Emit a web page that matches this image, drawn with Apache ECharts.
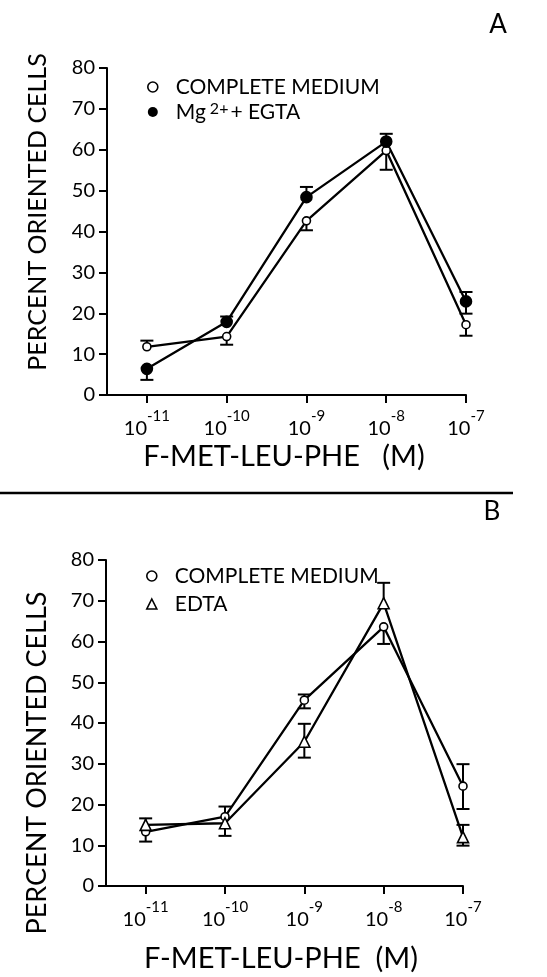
<!DOCTYPE html>
<html lang="en">
<head>
<meta charset="UTF-8">
<meta name="viewport" content="width=device-width, initial-scale=1.0">
<title>Percent oriented cells vs F-Met-Leu-Phe</title>
<style>
    html, body { margin: 0; padding: 0; background: #fff; }
    #echart { width: 547px; height: 977px; }
</style>
</head>
<body>

<div id="echart"></div>

<script src="https://cdn.jsdelivr.net/npm/echarts@6.0.0/dist/echarts.min.js"></script>
<script>
    // log10 of the F-Met-Leu-Phe concentration (M)
    const doses = [-11, -10, -9, -8, -7];

    // panel A
    const aComplete = [11.8, 14.3, 42.6, 59.8, 17.2];
    const aCompleteUp = [1.5, 0, 0, 0, 0];
    const aCompleteDown = [0, 2.0, 2.3, 4.7, 2.7];
    const aMgEgta = [6.4, 17.9, 48.4, 62.0, 22.9];
    const aMgEgtaUp = [0, 1.3, 2.5, 1.9, 2.3];
    const aMgEgtaDown = [2.7, 0, 0, 0, 3.0];

    // panel B
    const bComplete = [13.3, 17.0, 45.6, 63.6, 24.5];
    const bCompleteUp = [0, 2.5, 1.4, 0, 5.4];
    const bCompleteDown = [2.4, 0, 2.0, 4.2, 5.6];
    const bEdta = [15.0, 15.4, 35.4, 69.4, 12.0];
    const bEdtaUp = [1.6, 0, 4.4, 5.0, 3.0];
    const bEdtaDown = [0, 3.1, 3.9, 0, 2.1];

    const FONT = "Lato";
    const INK = "#000";

    const myChart = echarts.init(document.getElementById("echart"), null, { renderer: "canvas" });

    const pts = (vals) => doses.map((d, i) => [d, vals[i]]);
    const errs = (vals, up, down) => doses.map((d, i) => [d, vals[i], up[i], down[i]]);

    function errorBar(params, api) {
        const x = api.value(0);
        const y = api.value(1);
        const cap = 6.5;
        const children = [];
        [[api.value(2), 1], [api.value(3), -1]].forEach(([e, s]) => {
            if (!e) return;
            const p0 = api.coord([x, y]);
            const p1 = api.coord([x, y + s * e]);
            children.push({ type: "line", shape: { x1: p0[0], y1: p0[1], x2: p1[0], y2: p1[1] }, style: { stroke: INK, lineWidth: 2 } });
            children.push({ type: "line", shape: { x1: p1[0] - cap, y1: p1[1], x2: p1[0] + cap, y2: p1[1] }, style: { stroke: INK, lineWidth: 2 } });
        });
        return { type: "group", children };
    }

    function xAxisFor(gi) {
        return {
            type: "value", gridIndex: gi, min: -11.5, max: -7,
            axisLine: { show: true, onZero: false, lineStyle: { color: INK, width: 2 } },
            axisTick: { show: true, customValues: doses, length: 8, lineStyle: { color: INK, width: 2 } },
            axisLabel: {
                customValues: doses, margin: 14, color: INK, fontFamily: FONT, fontSize: 20,
                formatter: (v) => "{b|10}{s|" + v + "}",
                rich: {
                    b: { fontFamily: FONT, fontSize: 20, color: INK, lineHeight: 30, verticalAlign: "bottom" },
                    s: { fontFamily: FONT, fontSize: 15, color: INK, lineHeight: 30, verticalAlign: "top" }
                }
            },
            splitLine: { show: false }
        };
    }

    function yAxisFor(gi) {
        return {
            type: "value", gridIndex: gi, min: 0, max: 80, interval: 10,
            axisLine: { show: true, lineStyle: { color: INK, width: 2 } },
            axisTick: { show: true, length: 8, lineStyle: { color: INK, width: 2 } },
            axisLabel: { margin: 12, color: INK, fontFamily: FONT, fontSize: 20 },
            splitLine: { show: false }
        };
    }

    function lineSeries(name, gi, vals, symbol, size, fill) {
        return {
            name, type: "line", xAxisIndex: gi, yAxisIndex: gi,
            data: pts(vals), symbol, symbolSize: size, showAllSymbol: true, z: 3,
            lineStyle: { color: INK, width: 2.3 },
            itemStyle: { color: fill, borderColor: INK, borderWidth: 1.6 }
        };
    }

    function barSeries(gi, vals, up, down) {
        return {
            type: "custom", xAxisIndex: gi, yAxisIndex: gi, z: 2,
            renderItem: errorBar, data: errs(vals, up, down),
            encode: { x: 0, y: 1 }, silent: true
        };
    }

    const legendText = {
        fontFamily: FONT, fontSize: 21, color: INK, lineHeight: 22, padding: [0, 0, 0, 13],
        rich: {
            t: { fontFamily: FONT, fontSize: 21, color: INK },
            sup: { fontFamily: FONT, fontSize: 16, color: INK, verticalAlign: "top", padding: [0, 2, 8, 4] }
        }
    };
    const legendFormatter = (name) => name === "Mg2+ + EGTA" ? "{t|Mg}{sup|2+}{t|+ EGTA}" : name;
    const openIcon = { color: "#fff", borderColor: INK, borderWidth: 1.6 };
    const solidIcon = { color: INK, borderColor: INK, borderWidth: 0 };

    const option = {
        animation: false,
        backgroundColor: "#fff",
        grid: [
            { left: 107, top: 68, width: 359, height: 327 },
            { left: 106, top: 560, width: 357, height: 326 }
        ],
        xAxis: [xAxisFor(0), xAxisFor(1)],
        yAxis: [yAxisFor(0), yAxisFor(1)],
        legend: [
            {
                orient: "vertical", left: 142, top: 71, itemWidth: 10, itemHeight: 10, itemGap: 3,
                selectedMode: false, textStyle: legendText, formatter: legendFormatter,
                data: [
                    { name: "COMPLETE MEDIUM", icon: "circle", itemStyle: openIcon },
                    { name: "Mg2+ + EGTA", icon: "circle", itemStyle: solidIcon }
                ]
            },
            {
                orient: "vertical", left: 141, top: 560, itemWidth: 10, itemHeight: 10, itemGap: 6,
                selectedMode: false, textStyle: legendText, formatter: legendFormatter,
                data: [
                    { name: "COMPLETE MEDIUM", icon: "circle", itemStyle: openIcon },
                    { name: "EDTA", icon: "triangle", itemStyle: openIcon }
                ]
            }
        ],
        graphic: [
            { type: "text", x: 498, y: 25, style: { text: "A", font: "26px " + FONT, fill: INK, align: "center", verticalAlign: "middle" } },
            { type: "text", x: 492, y: 512, style: { text: "B", font: "26px " + FONT, fill: INK, align: "center", verticalAlign: "middle" } },
            { type: "line", shape: { x1: 0, y1: 493, x2: 513, y2: 493 }, style: { stroke: INK, lineWidth: 2.5 } },
            { type: "text", x: 38, y: 212, rotation: Math.PI / 2, style: { text: "PERCENT ORIENTED CELLS", font: "25px " + FONT, fill: INK, align: "center", verticalAlign: "middle" } },
            { type: "text", x: 37, y: 763, rotation: Math.PI / 2, style: { text: "PERCENT ORIENTED CELLS", font: "27px " + FONT, fill: INK, align: "center", verticalAlign: "middle" } },
            { type: "text", x: 284, y: 457, style: { text: "F-MET-LEU-PHE   (M)", font: "29px " + FONT, fill: INK, align: "center", verticalAlign: "middle" } },
            { type: "text", x: 281, y: 959, style: { text: "F-MET-LEU-PHE  (M)", font: "29px " + FONT, fill: INK, align: "center", verticalAlign: "middle" } }
        ],
        series: [
            barSeries(0, aComplete, aCompleteUp, aCompleteDown),
            barSeries(0, aMgEgta, aMgEgtaUp, aMgEgtaDown),
            lineSeries("COMPLETE MEDIUM", 0, aComplete, "circle", 8, "#fff"),
            lineSeries("Mg2+ + EGTA", 0, aMgEgta, "circle", 11, INK),
            barSeries(1, bComplete, bCompleteUp, bCompleteDown),
            barSeries(1, bEdta, bEdtaUp, bEdtaDown),
            lineSeries("COMPLETE MEDIUM", 1, bComplete, "circle", 8, "#fff"),
            lineSeries("EDTA", 1, bEdta, "triangle", 11, "#fff")
        ]
    };

    myChart.setOption(option);
</script>

</body>
</html>
